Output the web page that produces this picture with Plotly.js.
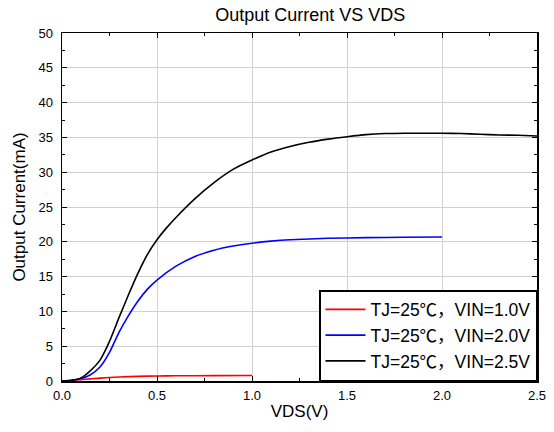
<!DOCTYPE html>
<html>
<head>
<meta charset="utf-8">
<script src="https://cdn.plot.ly/plotly-3.0.1.min.js"></script>
<style>html,body{margin:0;padding:0;background:#fff;}#chart{width:554px;height:432px;}</style>
</head>
<body>
<div id="chart"></div>
<script>
// VIN = 1.0V
const vds1 = [0, 0.05, 0.1, 0.15, 0.2, 0.3, 0.4, 0.5, 0.6, 0.8, 1.0];
const cur1 = [0, 0.08, 0.2, 0.3, 0.42, 0.58, 0.67, 0.72, 0.75, 0.77, 0.78];
// VIN = 2.0V
const vds2 = [0, 0.05, 0.1, 0.15, 0.2, 0.25, 0.3, 0.35, 0.4, 0.45, 0.5, 0.6, 0.7, 0.8, 0.9, 1.0, 1.1, 1.2, 1.4, 1.6, 1.8, 2.0];
const cur2 = [0, 0.1, 0.35, 0.9, 2.0, 4.1, 7.0, 9.4, 11.5, 13.2, 14.5, 16.5, 17.9, 18.8, 19.4, 19.8, 20.1, 20.3, 20.5, 20.6, 20.65, 20.7];
// VIN = 2.5V
const vds3 = [0, 0.05, 0.1, 0.15, 0.2, 0.25, 0.3, 0.35, 0.4, 0.45, 0.5, 0.55, 0.6, 0.7, 0.8, 0.9, 1.0, 1.1, 1.2, 1.3, 1.4, 1.5, 1.6, 1.7, 1.8, 1.9, 2.0, 2.1, 2.2, 2.3, 2.4, 2.5];
const cur3 = [0, 0.1, 0.45, 1.5, 3.0, 5.7, 9.1, 12.4, 15.5, 18.2, 20.3, 22.0, 23.5, 26.2, 28.5, 30.4, 31.75, 32.9, 33.7, 34.3, 34.75, 35.1, 35.4, 35.55, 35.6, 35.6, 35.6, 35.55, 35.45, 35.35, 35.3, 35.2];

const names = ['TJ=25℃，VIN=1.0V', 'TJ=25℃，VIN=2.0V', 'TJ=25℃，VIN=2.5V'];
const colors = ['#ff0000', '#0000ff', '#000000'];
const xs = [vds1, vds2, vds3];
const ys = [cur1, cur2, cur3];

const traces = xs.map((x, i) => ({
  x: x, y: ys[i], type: 'scatter', mode: 'lines', name: names[i],
  line: {color: colors[i], width: 1.6, shape: 'spline', smoothing: 0.6}
}));

const fam = 'Arial, "Liberation Sans", sans-serif';
const legFam = '"Liberation Sans", Arial, "Noto Sans CJK SC", sans-serif';
const layout = {
  width: 554, height: 432,
  margin: {l: 62, r: 17, t: 33, b: 51},
  paper_bgcolor: '#fff', plot_bgcolor: '#fff',
  font: {family: fam, size: 13, color: '#000'},
  title: {text: 'Output Current VS VDS', font: {family: fam, size: 18, color: '#000'}, x: 0.56, xanchor: 'center', y: 0.967, yanchor: 'middle'},
  xaxis: {
    range: [0, 2.5], dtick: 0.5, tickformat: '.1f',
    showgrid: true, gridcolor: '#d0d0d0', gridwidth: 1,
    showline: true, linecolor: '#000', linewidth: 1.5, mirror: 'allticks',
    ticks: 'inside', ticklen: 5, tickcolor: '#000', tickwidth: 1,
    minor: {dtick: 0.25, ticks: 'inside', ticklen: 3, tickcolor: '#000', showgrid: false},
    zeroline: false, tickfont: {family: fam, size: 13, color: '#000'}, ticklabelstandoff: 2,
    title: {text: 'VDS(V)', font: {family: fam, size: 17, color: '#000'}, standoff: 3}
  },
  yaxis: {
    range: [0, 50], dtick: 5,
    showgrid: true, gridcolor: '#d0d0d0', gridwidth: 1,
    showline: true, linecolor: '#000', linewidth: 1.5, mirror: 'allticks',
    ticks: 'inside', ticklen: 5, tickcolor: '#000', tickwidth: 1,
    minor: {dtick: 2.5, ticks: 'inside', ticklen: 3, tickcolor: '#000', showgrid: false},
    zeroline: false, tickfont: {family: fam, size: 13, color: '#000'}, ticklabelstandoff: 5,
    title: {text: 'Output Current(mA)', font: {family: fam, size: 17, color: '#000'}, standoff: 8}
  },
  legend: {
    x: 1, y: 0, xanchor: 'right', yanchor: 'bottom',
    bgcolor: '#fff', bordercolor: '#000', borderwidth: 1.5,
    font: {family: legFam, size: 17.5, color: '#000'}, tracegroupgap: 0,
    itemwidth: 40
  },
  showlegend: true
};

Plotly.newPlot('chart', traces, layout, {displayModeBar: false, staticPlot: true});
</script>
</body>
</html>
